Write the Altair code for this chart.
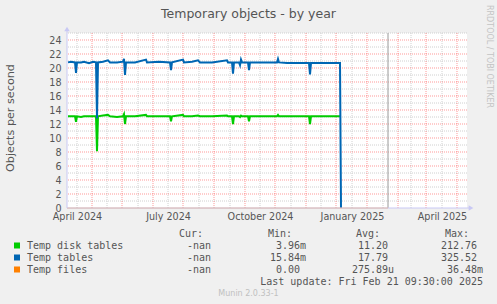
import re
import altair as alt
import pandas as pd

# ---------------- data ----------------
dates = ["2024-03-23", "2024-03-26", "2024-03-30", "2024-03-31", "2024-04-01", "2024-04-05",
         "2024-04-08", "2024-04-13", "2024-04-17", "2024-04-20", "2024-04-21", "2024-04-22",
         "2024-04-27", "2024-05-02", "2024-05-04", "2024-05-11", "2024-05-17", "2024-05-18",
         "2024-05-19", "2024-05-20", "2024-05-29", "2024-06-09", "2024-06-10", "2024-06-22",
         "2024-07-03", "2024-07-04", "2024-07-05", "2024-07-16", "2024-07-17", "2024-07-25",
         "2024-07-31", "2024-08-02", "2024-08-14", "2024-08-29", "2024-08-30", "2024-09-03",
         "2024-09-04", "2024-09-05", "2024-09-10", "2024-09-11", "2024-09-12", "2024-09-13",
         "2024-09-19", "2024-09-20", "2024-09-21", "2024-10-03", "2024-10-18", "2024-10-19",
         "2024-10-20", "2024-10-28", "2024-11-19", "2024-11-20", "2024-11-21", "2024-12-20",
         "2024-12-21"]
temp_tables = [20.8, 20.9, 20.8, 19.3, 20.8, 20.8,
               20.9, 20.7, 20.9, 20.8, 12.8, 20.8,
               20.9, 21.1, 20.8, 20.8, 20.9, 21.3,
               19.0, 20.8, 20.8, 21.2, 20.8, 20.9,
               20.8, 19.7, 20.8, 21.2, 20.8, 20.9,
               21.1, 20.8, 20.8, 21.1, 20.8, 20.8,
               19.2, 20.8, 20.8, 20.4, 21.2, 20.8,
               20.8, 19.7, 20.8, 20.8, 20.8, 21.3,
               20.8, 20.7, 20.7, 19.1, 20.7, 20.7,
               0.0]
temp_disk_tables = [13.1, 13.1, 13.1, 12.3, 13.1, 13.0,
                    13.1, 13.1, 13.1, 13.1, 8.1, 13.1,
                    13.2, 13.3, 13.1, 13.0, 13.1, 13.4,
                    12.0, 13.1, 13.1, 13.3, 13.1, 13.1,
                    13.1, 12.4, 13.1, 13.3, 13.1, 13.1,
                    13.2, 13.1, 13.1, 13.2, 13.1, 13.1,
                    12.0, 13.1, 13.1, 13.0, 13.2, 13.1,
                    13.1, 12.4, 13.1, 13.1, 13.1, 13.3,
                    13.1, 13.1, 13.1, 12.0, 13.1, 13.1,
                    None]
files_dates = ["2024-03-22", "2025-02-06"]
temp_files = [0.0, 0.0]
last_rule_date = ["2025-02-06"]

month_starts = ["2024-04-01", "2024-05-01", "2024-06-01", "2024-07-01", "2024-08-01",
                "2024-09-01", "2024-10-01", "2024-11-01", "2024-12-01", "2025-01-01",
                "2025-02-01", "2025-03-01", "2025-04-01"]
mid_months = ["2024-04-16", "2024-05-16", "2024-06-16", "2024-07-16", "2024-08-16",
              "2024-09-16", "2024-10-16", "2024-11-16", "2024-12-16", "2025-01-16",
              "2025-02-16", "2025-03-16", "2025-04-16"]
label_dates = [(2024, 4, 1), (2024, 7, 1), (2024, 10, 1), (2025, 1, 1), (2025, 4, 1)]
y_labels = [0, 2, 4, 6, 8, 10, 12, 14, 16, 18, 20, 22, 24]
y_major = [2, 4, 6, 8, 10, 12, 14, 16, 18, 20, 22, 24]
y_minor = [1, 3, 5, 7, 9, 11, 13, 15, 17, 19, 21, 23, 25]

names = ["Temp disk tables", "Temp tables", "Temp files"]
colors = ["#00cc00", "#0066b3", "#ff8000"]
cur = ["-nan", "-nan", "-nan"]
mins = ["3.96m", "15.84m", "0.00"]
avgs = ["11.20", "17.79", "275.89u"]
maxs = ["212.76", "325.52", "36.48m"]

# ---------------- layout ----------------
W, H = 400, 175
L, T = 67, 33
GREY = "#555555"
AXIS = "#c8c8f4"
MONO = "DejaVu Sans Mono"
SANS = "DejaVu Sans"

xscale = alt.Scale(type="utc", domain=[alt.DateTime(year=2024, month=3, date=22, utc=True),
                                       alt.DateTime(year=2025, month=4, date=26, utc=True)])
yscale = alt.Scale(domain=[0, 25], nice=False, zero=True)

xaxis = alt.Axis(values=[alt.DateTime(year=y, month=m, date=d, utc=True) for y, m, d in label_dates],
                 labelExpr="utcFormat(datum.value, '%B %Y')", grid=False, ticks=False, domain=False,
                 labelFont=SANS, labelFontSize=9.6, labelColor=GREY, labelPadding=3,
                 labelFlush=False, labelOverlap=False, title=None)
yaxis = alt.Axis(values=y_labels, grid=False, ticks=False, domain=False,
                 labelFont=SANS, labelFontSize=9.6, labelColor=GREY, labelPadding=6,
                 labelOverlap=False, labelFlush=False, title=None)


def X(field):
    return alt.X(field, type="temporal", scale=xscale, axis=xaxis)


def Y(field):
    return alt.Y(field, type="quantitative", scale=yscale, axis=yaxis)


one = pd.DataFrame({"a": [0]})


def txt(s, x, y, size=10, align="left", font=MONO, color=GREY, angle=0):
    return alt.Chart(one).mark_text(text=s, font=font, fontSize=size, align=align,
                                    baseline="middle", color=color, angle=angle).encode(
        x=alt.value(x - L), y=alt.value(y - T))


series = pd.DataFrame({"date": dates, "tables": temp_tables, "disk": temp_disk_tables})
files = pd.DataFrame({"date": files_dates, "files": temp_files})

minor_v = alt.Chart(pd.DataFrame({"d": month_starts})).mark_rule(
    color="#d0d0d0", strokeDash=[1, 1], strokeWidth=1).encode(x=X("d"))
major_v = alt.Chart(pd.DataFrame({"d": mid_months})).mark_rule(
    color="#ff0000", opacity=0.4, strokeDash=[1, 1], strokeWidth=1).encode(x=X("d"))
minor_h = alt.Chart(pd.DataFrame({"v": y_minor})).mark_rule(
    color="#d0d0d0", strokeDash=[1, 1], strokeWidth=1).encode(y=Y("v"))
major_h = alt.Chart(pd.DataFrame({"v": y_major})).mark_rule(
    color="#ff0000", opacity=0.4, strokeDash=[1, 1], strokeWidth=1).encode(y=Y("v"))
vrule = alt.Chart(pd.DataFrame({"d": last_rule_date})).mark_rule(
    color="#999999", strokeWidth=1).encode(x=X("d"))

green = alt.Chart(series).mark_line(color=colors[0], strokeWidth=2).encode(
    x=X("date"), y=Y("disk"))
blue = alt.Chart(series).mark_line(color=colors[1], strokeWidth=2).encode(
    x=X("date"), y=Y("tables"))
orange = alt.Chart(files).mark_line(color=colors[2], strokeWidth=1, opacity=0.6).encode(
    x=X("date"), y=Y("files"))

# axes lines and arrows
y_line = alt.Chart(one).mark_rule(color=AXIS, strokeWidth=1).encode(
    x=alt.value(0), y=alt.value(-3), y2=alt.value(H))
x_line = alt.Chart(one).mark_rule(color=AXIS, strokeWidth=1).encode(
    x=alt.value(0), x2=alt.value(404), y=alt.value(H))
y_arrow = alt.Chart(one).mark_point(shape="triangle-up", filled=True, color=AXIS, opacity=1, size=30).encode(
    x=alt.value(0), y=alt.value(-4))
x_arrow = alt.Chart(one).mark_point(shape="triangle-right", filled=True, color=AXIS, opacity=1, size=30).encode(
    x=alt.value(404), y=alt.value(H))

layers = [minor_v, minor_h, major_v, major_h, vrule, green, blue, orange,
          y_line, x_line, y_arrow, x_arrow]

# titles / watermarks
layers.append(txt("Temporary objects - by year", 248.5, 13.5, size=12.5, align="center", font=SANS))
layers.append(txt("Objects per second", 10.5, 118, size=11.2, align="center", font=SANS, angle=270))
layers.append(txt("RRDTOOL / TOBI OETIKER", 488.5, 5, size=8, align="left", font=SANS,
                  color="#c4c4c4", angle=90))
layers.append(txt("Munin 2.0.33-1", 248.5, 293.5, size=8, align="center", font=SANS, color="#c0c0c0"))

# legend
col_head = [("Cur:", 203), ("Min:", 292), ("Avg:", 380), ("Max:", 469)]
col_end = [211, 300, 388, 477]
for h, xe in col_head:
    layers.append(txt(h, xe, 233.5, align="right"))
for i, (name, c) in enumerate(zip(names, colors)):
    yy = 245.5 + 12 * i
    layers.append(alt.Chart(one).mark_square(color=c, size=36, opacity=1).encode(
        x=alt.value(17 - L), y=alt.value(yy - T)))
    layers.append(txt(name, 27, yy))
    for vals, xe in zip([cur, mins, avgs, maxs], col_end):
        v = vals[i]
        m = re.match(r"^(.*?)([a-zA-Z]?)$", v)
        num, suf = (m.group(1), m.group(2)) if v != "-nan" else (v, "")
        layers.append(txt(num, xe, yy, align="right"))
        if suf:
            layers.append(txt(suf, xe, yy, align="left"))
layers.append(txt("Last update: Fri Feb 21 09:30:00 2025", 483, 281.5, align="right"))

chart = alt.layer(*layers).properties(
    width=W, height=H,
    autosize=alt.AutoSizeParams(type="none"),
    padding={"left": L, "top": T, "right": 497 - L - W, "bottom": 304 - T - H},
    background="#f0f0f0",
).configure_view(fill="white", stroke=None)

chart.save("out.html", embed_options={"renderer": "svg", "actions": False})
